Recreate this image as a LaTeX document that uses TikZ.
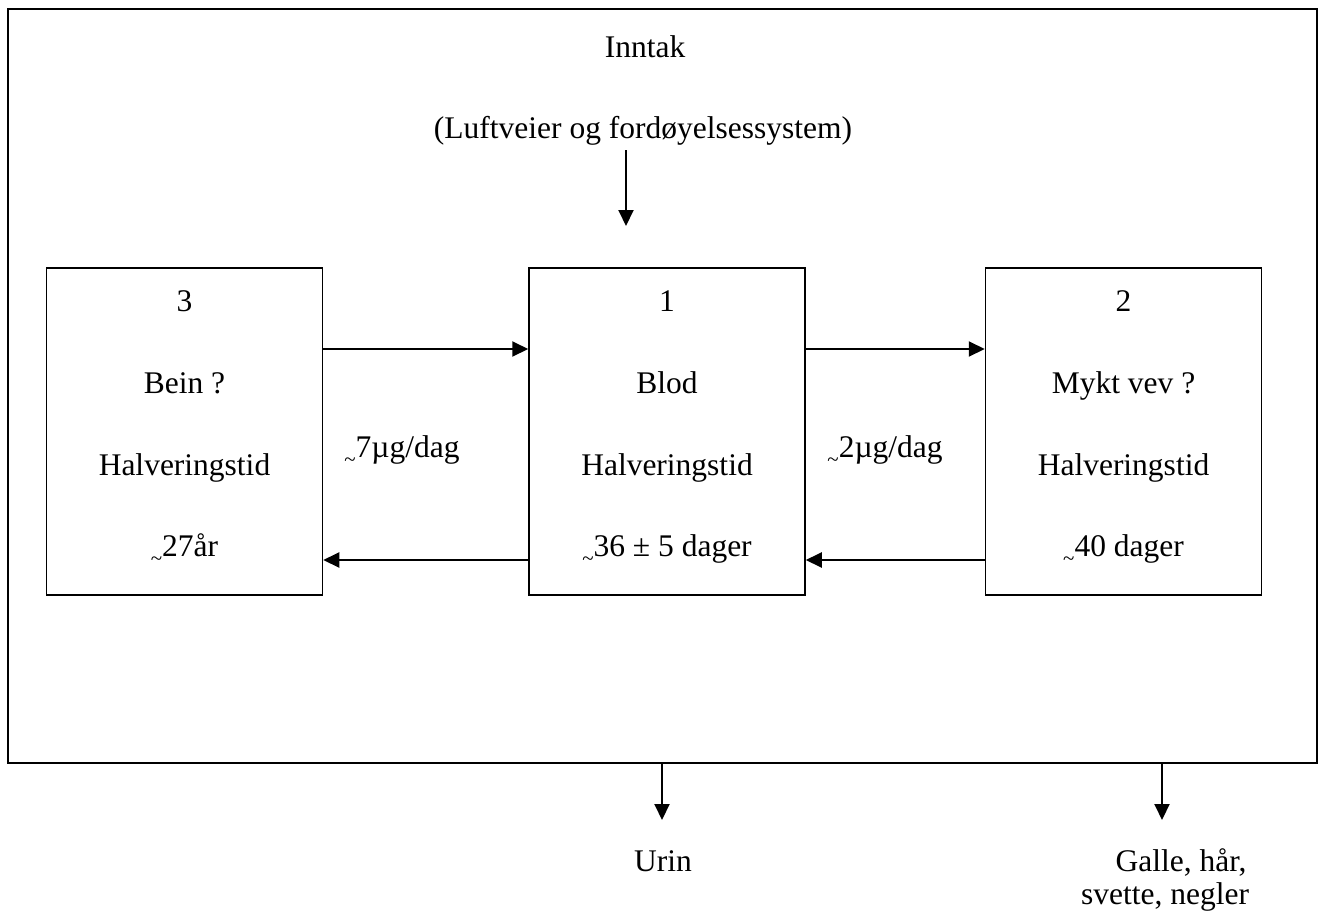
\documentclass[tikz,border=0pt]{standalone}
\usepackage{fontspec}
\setmainfont{Liberation Serif}
\usetikzlibrary{arrows.meta}
\newcommand{\smtilde}{{\fontsize{21}{21}\selectfont\raisebox{-9.5pt}{\textasciitilde}}}
\begin{document}
\begin{tikzpicture}[x=1pt,y=-1pt,
  every node/.style={font=\fontsize{31.5}{34}\selectfont, inner sep=0pt},
  txt/.style={anchor=base},
  boxnode/.style={draw, line width=1.5pt, minimum width=276pt, minimum height=327pt},
  arr/.style={line width=2pt, -{Triangle[length=16pt,width=15pt]}},
  frame/.style={draw, line width=2pt}]
\useasboundingbox (0,0) rectangle (1325,913);
\node[frame, minimum width=1309pt, minimum height=754pt] (outer) at (662.5,386) {};
% boxes
\node[boxnode] (b3) at (184.5,431.5) {};
\node[boxnode] (b1) at (667,431.5) {};
\node[boxnode] (b2) at (1123.5,431.5) {};
% box texts
\node[txt] (t3a) at (184.5,311) {3};
\node[txt] (t3b) at (184.5,393) {Bein ?};
\node[txt] (t3c) at (184.5,475) {Halveringstid};
\node[txt] (t3d) at (184.5,556) {\smtilde27år};
\node[txt] (t1a) at (667,311) {1};
\node[txt] (t1b) at (667,393) {Blod};
\node[txt] (t1c) at (667,475) {Halveringstid};
\node[txt] (t1d) at (667,556) {\smtilde36 ± 5 dager};
\node[txt] (t2a) at (1123.5,311) {2};
\node[txt] (t2b) at (1123.5,393) {Mykt vev ?};
\node[txt] (t2c) at (1123.5,475) {Halveringstid};
\node[txt] (t2d) at (1123.5,556) {\smtilde40 dager};
% labels
\node[txt] (l7) at (402,457) {\smtilde7µg/dag};
\node[txt] (l2) at (885,457) {\smtilde2µg/dag};
\node[txt] (inn) at (645,57) {Inntak};
\node[txt] (luft) at (643,138) {(Luftveier og fordøyelsessystem)};
\node[txt] (urin) at (663,871) {Urin};
\node[txt] (galle) at (1181,871) {Galle, hår,};
\node[txt] (svette) at (1165,904) {svette, negler};
% arrows
\coordinate (topS) at (626,150);
\coordinate (topE) at (626,226);
\draw[arr] (topS) -- (topE);
\draw[arr] (b3.east |- 0,349) -- (b1.west |- 0,349);
\draw[arr] (b1.west |- 0,560) -- (b3.east |- 0,560);
\draw[arr] (b1.east |- 0,349) -- (b2.west |- 0,349);
\draw[arr] (b2.west |- 0,560) -- (b1.east |- 0,560);
\coordinate (u0) at (662,820);
\coordinate (g0) at (1162,820);
\draw[arr] (outer.south -| u0) -- (u0);
\draw[arr] (outer.south -| g0) -- (g0);
\end{tikzpicture}
\end{document}
